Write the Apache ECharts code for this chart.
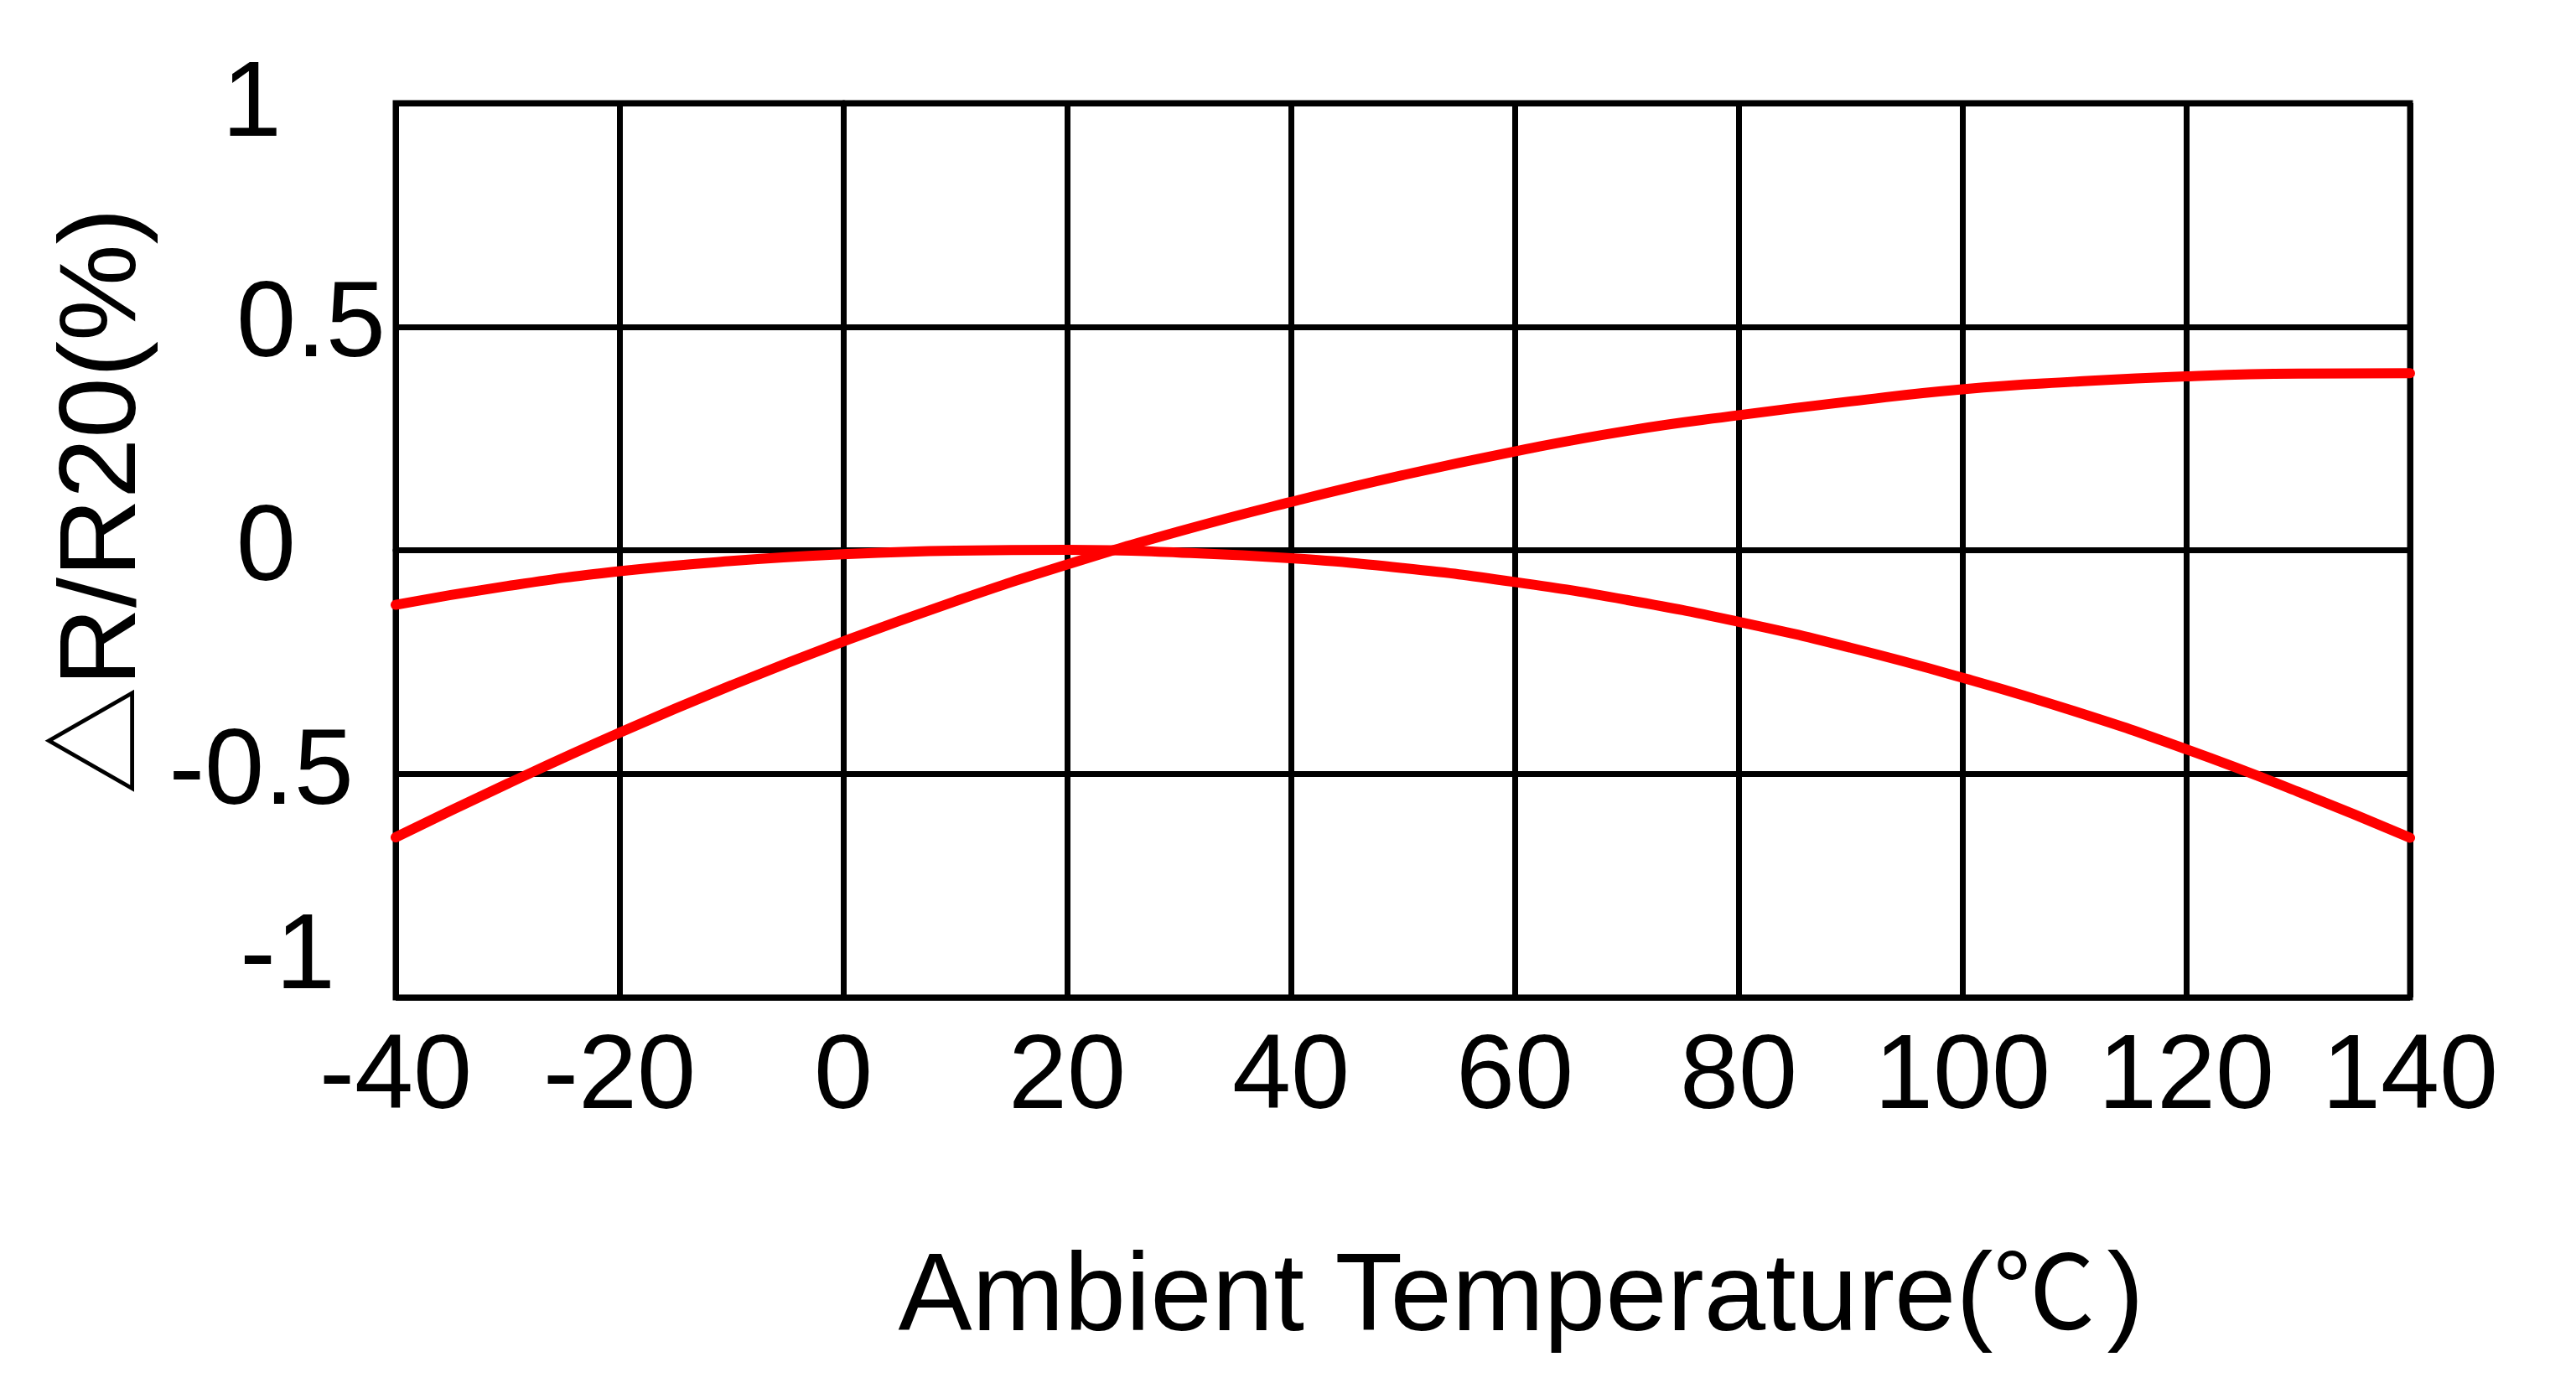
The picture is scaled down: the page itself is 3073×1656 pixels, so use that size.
<!DOCTYPE html>
<html>
<head>
<meta charset="utf-8">
<script src="https://cdn.jsdelivr.net/npm/echarts@6/dist/echarts.min.js"></script>
<style>
html,body{margin:0;padding:0;background:#fff;}
#chart{width:3073px;height:1656px;}
</style>
</head>
<body>
<div id="chart"></div>
<script>
// Temperatures (°C)
var temperatures = [-40, -30, -20, -10, 0, 10, 20, 30, 40, 50, 60, 70, 80, 90, 100, 110, 120, 130, 140];
// Rising curve (ΔR/R20 %)
var risingCurve = [-0.642, -0.522, -0.408, -0.302, -0.204, -0.114, -0.032, 0.042, 0.108, 0.168, 0.221, 0.267, 0.302, 0.333, 0.360, 0.377, 0.389, 0.395, 0.396];
// Falling curve (ΔR/R20 %)
var fallingCurve = [-0.122, -0.080, -0.047, -0.024, -0.009, -0.001, 0.001, -0.005, -0.018, -0.040, -0.071, -0.111, -0.160, -0.218, -0.285, -0.360, -0.445, -0.540, -0.643];
// Tick labels
var yTickLabels = {'1': '1', '0.5': '0.5', '0': '0', '-0.5': '-0.5', '-1': '-1'};
var xTickLabels = ['-40', '-20', '0', '20', '40', '60', '80', '100', '120', '140'];

var FONT = "'Liberation Sans', Arial, 'Noto Sans CJK SC', sans-serif";

function pairs(xs, ys) {
  var out = [];
  for (var i = 0; i < xs.length; i++) out.push([xs[i], ys[i]]);
  return out;
}

var yRichKey = {'1': 'p1', '0.5': 'p05', '0': 'z', '-0.5': 'm05', '-1': 'm1'};
function richBase(size, family, extra) {
  var o = {fontSize: size, fontFamily: family, color: '#000'};
  for (var k in extra) o[k] = extra[k];
  return o;
}

var chart = echarts.init(document.getElementById('chart'), null, {renderer: 'canvas'});
chart.setOption({
  backgroundColor: '#fff',
  animation: false,
  grid: {
    left: 472, right: 198, top: 123, bottom: 466,
    show: true, borderColor: '#000', borderWidth: 7, containLabel: false
  },
  xAxis: {
    type: 'value',
    min: -40, max: 140, interval: 20,
    name: '{a|Ambient Temperature(}{b|℃}{c|)}',
    nameLocation: 'middle',
    nameGap: 295,
    nameTextStyle: {
      fontSize: 132, fontFamily: FONT, color: '#000', padding: [0, 0, 0, 282],
      rich: {
        a: richBase(132, FONT, {}),
        b: richBase(122, FONT, {}),
        c: richBase(132, FONT, {padding: [0, 0, 0, 14]})
      }
    },
    axisLine: {show: true, lineStyle: {color: '#000', width: 7}},
    axisTick: {show: false},
    splitLine: {show: true, lineStyle: {color: '#000', width: 7}},
    axisLabel: {
      fontSize: 126, fontFamily: FONT, color: '#000', margin: 34,
      formatter: function (v) {
        var idx = Math.round((v + 40) / 20);
        return xTickLabels[idx] !== undefined ? xTickLabels[idx] : '';
      }
    }
  },
  yAxis: {
    type: 'value',
    min: -1, max: 1, interval: 0.5,
    name: '△R/R20(%)',
    nameLocation: 'middle',
    nameRotate: 90,
    nameGap: 282,
    nameTextStyle: {fontSize: 130, fontFamily: FONT, color: '#000', padding: [0, 0, 0, 116]},
    axisLine: {show: true, lineStyle: {color: '#000', width: 7}},
    axisTick: {show: false},
    splitLine: {show: true, lineStyle: {color: '#000', width: 7}},
    axisLabel: {
      fontSize: 128, fontFamily: FONT, color: '#000', margin: 12, align: 'right',
      formatter: function (v) {
        var key = String(Math.round(v * 10) / 10);
        var lbl = yTickLabels[key];
        if (lbl === undefined) return '';
        return '{' + yRichKey[key] + '|' + lbl + '}';
      },
      rich: {
        p1: richBase(128, FONT, {padding: [8, 124, 0, 0]}),
        p05: richBase(128, FONT, {padding: [0, 0, 0, 0]}),
        z: richBase(128, FONT, {padding: [0, 107, 0, 0]}),
        m05: richBase(128, FONT, {padding: [0, 38, 0, 0]}),
        m1: richBase(128, FONT, {padding: [0, 60, 92, 0]})
      }
    }
  },
  series: [
    {
      type: 'line',
      data: pairs(temperatures, risingCurve),
      smooth: 0.5,
      showSymbol: false,
      lineStyle: {color: '#ff0000', width: 12, cap: 'round', join: 'round'},
      z: 5
    },
    {
      type: 'line',
      data: pairs(temperatures, fallingCurve),
      smooth: 0.5,
      showSymbol: false,
      lineStyle: {color: '#ff0000', width: 12, cap: 'round', join: 'round'},
      z: 5
    }
  ]
});
</script>
</body>
</html>
